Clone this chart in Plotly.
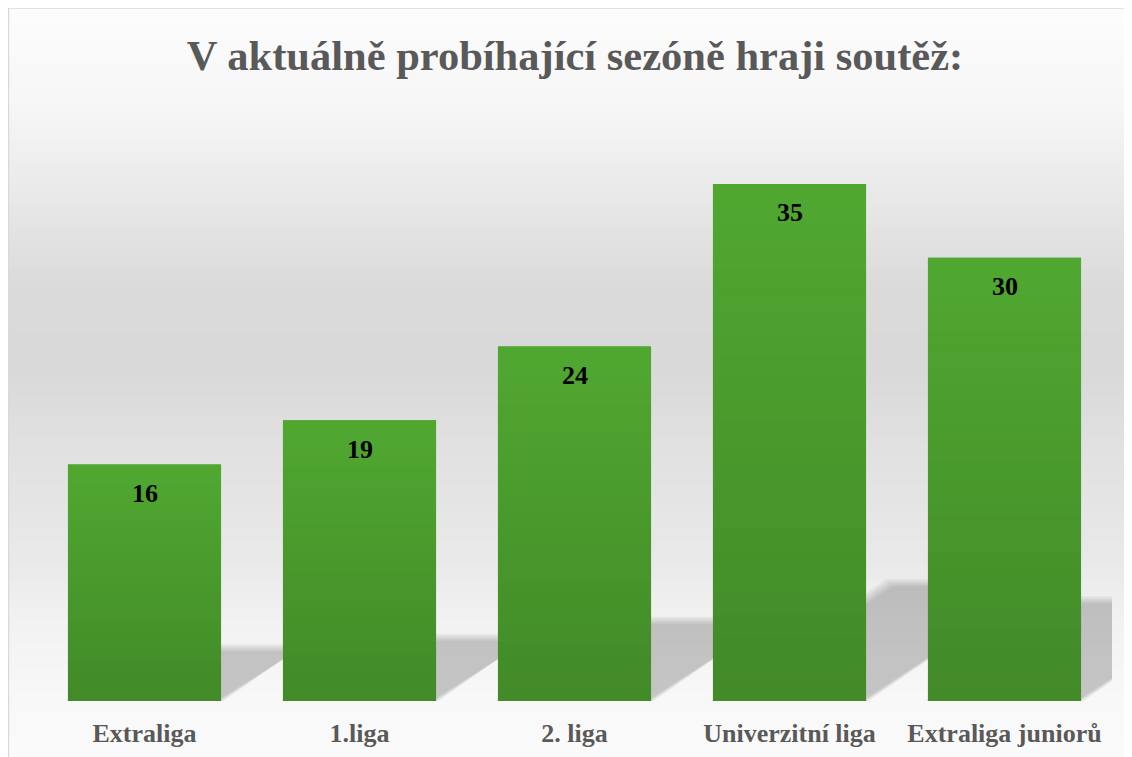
import plotly.graph_objects as go

# ---- data ----
categories = ["Extraliga", "1.liga", "2. liga", "Univerzitní liga", "Extraliga juniorů"]
values = [16, 19, 24, 35, 30]
title_text = "V aktuálně probíhající sezóně hraji soutěž:"

# ---- layout geometry (figure pixels; page adds 8px body margin) ----
W, H = 1132, 757
ML, MR, MT, MB = 29, 28, 102, 64
PW = W - ML - MR
PH = H - MT - MB
YMAX = 40
BARGAP = 0.288
BAR_TOP = (80, 168, 48)
BAR_BOTTOM = (66, 138, 40)

def px_to_paper(px, py):
    return (px - ML) / PW, (H - MB - py) / PH

fig = go.Figure()
fig.add_trace(go.Bar(
    x=categories, y=values,
    marker=dict(color="#4a9a2c", line=dict(width=0)),
    hoverinfo="skip",
))

shapes = []

# background vertical gradient (decoration)
stops = [(0, (253, 253, 253)), (110, (246, 246, 246)), (200, (232, 232, 232)),
         (290, (218, 218, 218)), (370, (217, 217, 217)), (450, (225, 225, 225)),
         (560, (233, 233, 233)), (625, (242, 242, 242)), (700, (248, 248, 248)),
         (770, (251, 251, 251))]

def col_at(py):
    for (y0, c0), (y1, c1) in zip(stops[:-1], stops[1:]):
        if y0 <= py <= y1:
            t = (py - y0) / (y1 - y0)
            return tuple(round(a + (b - a) * t) for a, b in zip(c0, c1))
    return stops[-1][1]

step = 4
for py in range(0, H, step):
    c = col_at(py + 8 + step / 2)
    x0, y0 = px_to_paper(0, py + step + 0.5)
    x1, y1 = px_to_paper(W, py - 0.5)
    shapes.append(dict(type="rect", xref="paper", yref="paper", x0=x0, x1=x1, y0=y0, y1=y1,
                       fillcolor="rgb(%d,%d,%d)" % c, line=dict(width=0), layer="below"))

# perspective shadows behind bars (decoration derived from values)
cat_px = PW / len(categories)
y_px = PH / YMAX
half = (1 - BARGAP) / 2
SHEAR = 0.34
SQUASH = 0.23
for i, v in enumerate(values):
    hpx = v * y_px
    for d in (-3, -1.5, 0, 1.5, 3, 4.5):
        dx = d / cat_px
        dy = d / y_px
        sx = SHEAR * hpx / cat_px
        top = SQUASH * v - dy
        xl, xr = i - half + dx, i + half - dx
        path = "M %f,0 L %f,0 L %f,%f L %f,%f Z" % (xl, xr, xr + sx, top, xl + sx, top)
        shapes.append(dict(type="path", xref="x", yref="y", path=path,
                           fillcolor="rgba(0,0,0,0.034)", line=dict(width=0), layer="below"))

# vertical gradient fill on each bar (styling overlay derived from values)
NSTRIP = 24
for i, v in enumerate(values):
    for k in range(NSTRIP):
        t = (k + 0.5) / NSTRIP
        c = tuple(round(a + (b - a) * t) for a, b in zip(BAR_TOP, BAR_BOTTOM))
        y1 = v * (1 - k / NSTRIP)
        y0 = v * (1 - (k + 1) / NSTRIP)
        shapes.append(dict(type="rect", xref="x", yref="y", x0=i - half, x1=i + half,
                           y0=max(y0 - 0.02, 0), y1=y1 if k == 0 else y1 + 0.02,
                           fillcolor="rgb(%d,%d,%d)" % c, line=dict(width=0), layer="above"))

# chart border
bx0, by0 = px_to_paper(0.5, 0)
bx1, by1 = px_to_paper(W + 10, H + 10)
shapes.append(dict(type="rect", xref="paper", yref="paper", x0=bx0, x1=bx1, y0=by1, y1=by0,
                   line=dict(color="#d9d9d9", width=1.5), fillcolor="rgba(0,0,0,0)", layer="above"))

annotations = []
for c, v in zip(categories, values):
    annotations.append(dict(x=c, y=v, xref="x", yref="y", text=str(v), showarrow=False,
                            yanchor="middle", yshift=-29,
                            font=dict(family="Liberation Serif", size=26, color="#000000", weight="bold")))

fig.update_layout(
    width=W, height=H,
    margin=dict(l=ML, r=MR, t=MT, b=MB),
    paper_bgcolor="#fbfbfb", plot_bgcolor="rgba(0,0,0,0)",
    bargap=BARGAP,
    showlegend=False,
    title=dict(text=title_text, x=567 / W, xanchor="center", y=1 - 47 / H, yanchor="middle",
               yref="container",
               font=dict(family="Liberation Serif", size=42.5, color="#595959", weight="bold")),
    xaxis=dict(showgrid=False, zeroline=False, showline=False, ticks="",
               range=[-0.5, len(categories) - 0.5], ticklabelstandoff=14,
               tickfont=dict(family="Liberation Serif", size=26, color="#595959", weight="bold")),
    yaxis=dict(visible=False, range=[0, YMAX], showgrid=False, zeroline=False),
    shapes=shapes,
    annotations=annotations,
)

fig.write_html("out.html")
